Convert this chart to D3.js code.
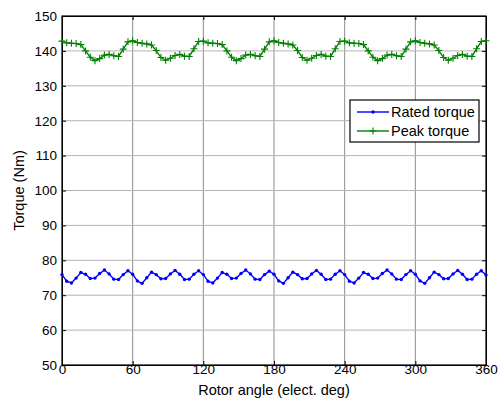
<!DOCTYPE html>
<html>
<head>
<meta charset="utf-8">
<script src="https://cdn.jsdelivr.net/npm/d3@7"></script>
<style>
  body { margin: 0; background: #fff; }
  text { font-family: "Liberation Sans", Arial, sans-serif; }
</style>
</head>
<body>
<div id="chart"></div>
<script>
// rotor angle samples (elect. deg)
let angles = [
    0, 4, 8, 12, 16, 20, 24, 28, 32, 36, 40, 44, 48, 52, 56,
    60, 64, 68, 72, 76, 80, 84, 88, 92, 96, 100, 104, 108, 112, 116,
    120, 124, 128, 132, 136, 140, 144, 148, 152, 156, 160, 164, 168, 172, 176,
    180, 184, 188, 192, 196, 200, 204, 208, 212, 216, 220, 224, 228, 232, 236,
    240, 244, 248, 252, 256, 260, 264, 268, 272, 276, 280, 284, 288, 292, 296,
    300, 304, 308, 312, 316, 320, 324, 328, 332, 336, 340, 344, 348, 352, 356,
    360
];

let ratedTorque = [
    75.9, 74.0, 73.5, 74.9, 76.5, 76.0, 74.8, 74.9, 76.2, 77.2, 76.1, 74.6, 74.5, 75.9, 77.0,
    76.0, 74.1, 73.4, 75.0, 76.6, 75.9, 74.7, 74.8, 76.1, 77.1, 76.0, 74.5, 74.6, 76.0, 77.0,
    75.9, 74.0, 73.5, 74.9, 76.5, 76.0, 74.8, 74.9, 76.2, 77.2, 76.1, 74.6, 74.5, 75.9, 76.9,
    76.0, 74.1, 73.4, 75.0, 76.6, 75.9, 74.7, 74.8, 76.1, 77.1, 76.0, 74.5, 74.6, 76.0, 77.0,
    75.9, 74.0, 73.5, 74.9, 76.5, 76.0, 74.8, 74.9, 76.2, 77.2, 76.1, 74.6, 74.5, 75.9, 77.0,
    76.0, 74.1, 73.4, 75.0, 76.6, 75.9, 74.7, 74.8, 76.1, 77.1, 76.0, 74.5, 74.6, 76.0, 77.0,
    75.8
];

let peakTorque = [
    142.8, 142.3, 142.2, 142.1, 141.8, 140.0, 138.2, 137.2, 137.8, 138.8, 139.0, 138.6, 138.4, 140.5, 142.6,
    142.9, 142.4, 142.2, 142.0, 141.7, 140.1, 138.1, 137.3, 137.9, 138.7, 139.0, 138.5, 138.4, 140.6, 142.7,
    142.8, 142.3, 142.2, 142.1, 141.8, 140.0, 138.2, 137.2, 137.8, 138.8, 139.0, 138.6, 138.4, 140.5, 142.6,
    142.9, 142.4, 142.2, 142.0, 141.7, 140.1, 138.1, 137.3, 137.9, 138.7, 139.0, 138.5, 138.4, 140.6, 142.7,
    142.8, 142.3, 142.2, 142.1, 141.8, 140.0, 138.2, 137.2, 137.8, 138.8, 139.0, 138.6, 138.4, 140.5, 142.6,
    142.9, 142.4, 142.2, 142.0, 141.7, 140.1, 138.1, 137.3, 137.9, 138.7, 139.0, 138.5, 138.4, 140.6, 142.7,
    142.9
];

let xTicks = [0, 60, 120, 180, 240, 300, 360];
let yTicks = [50, 60, 70, 80, 90, 100, 110, 120, 130, 140, 150];

let seriesNames = ['Rated torque', 'Peak torque'];
let seriesColors = ['#0000ff', '#008000'];

function drawChart() {

    let margin = {top: 16, right: 15, bottom: 36, left: 62};
    let totalW = 501, totalH = 401;
    let width = totalW - margin.left - margin.right;
    let height = totalH - margin.top - margin.bottom;

    let svg = d3.select('#chart').append('svg')
        .attr('width', totalW)
        .attr('height', totalH);

    let g = svg.append('g')
        .attr('transform', `translate(${margin.left},${margin.top})`);

    let x = d3.scaleLinear().domain([0, 360]).range([0, width]);
    let y = d3.scaleLinear().domain([50, 150]).range([height, 0]);

    // grid
    g.selectAll('.vgrid').data(xTicks.slice(1, -1)).enter().append('line')
        .attr('x1', d => x(d)).attr('x2', d => x(d))
        .attr('y1', 0).attr('y2', height)
        .attr('stroke', '#8c8c8c').attr('stroke-width', 1);

    g.selectAll('.hgrid').data(yTicks.slice(1, -1)).enter().append('line')
        .attr('x1', 0).attr('x2', width)
        .attr('y1', d => y(d)).attr('y2', d => y(d))
        .attr('stroke', '#b4b4b4').attr('stroke-width', 1);

    // axes with inner ticks
    g.append('g')
        .attr('transform', `translate(0,${height})`)
        .call(d3.axisBottom(x).tickValues(xTicks).tickSizeInner(-4).tickSizeOuter(0).tickPadding(-1));
    g.append('g')
        .call(d3.axisLeft(y).tickValues(yTicks).tickSizeInner(-4).tickSizeOuter(0).tickPadding(5));
    g.append('g')
        .call(d3.axisTop(x).tickValues(xTicks).tickSizeInner(-4).tickSizeOuter(0).tickFormat(''));
    g.append('g')
        .attr('transform', `translate(${width},0)`)
        .call(d3.axisRight(y).tickValues(yTicks).tickSizeInner(-4).tickSizeOuter(0).tickFormat(''));

    g.selectAll('.domain').attr('stroke', '#000');
    g.selectAll('.tick line').attr('stroke', '#000');
    g.selectAll('.tick text').attr('font-size', '13.5px').attr('fill', '#000');

    // box
    g.append('rect')
        .attr('width', width).attr('height', height)
        .attr('fill', 'none').attr('stroke', '#000').attr('stroke-width', 1.2);

    // lines
    let allSeries = [ratedTorque, peakTorque];
    let line = d3.line()
        .x((d, i) => x(angles[i]))
        .y(d => y(d));

    allSeries.forEach(function (values, s) {
        g.append('path')
            .datum(values)
            .attr('d', line)
            .attr('fill', 'none')
            .attr('stroke', seriesColors[s])
            .attr('stroke-width', 1.4);

        if (s === 0) {
            g.selectAll('.dot' + s).data(values).enter().append('circle')
                .attr('cx', (d, i) => x(angles[i]))
                .attr('cy', d => y(d))
                .attr('r', 1.7)
                .attr('fill', seriesColors[s]);
        } else {
            g.selectAll('.plus' + s).data(values).enter().append('path')
                .attr('d', (d, i) => {
                    let cx = x(angles[i]), cy = y(d);
                    return `M${cx - 3.5},${cy}H${cx + 3.5}M${cx},${cy - 3.5}V${cy + 3.5}`;
                })
                .attr('stroke', seriesColors[s])
                .attr('stroke-width', 1.1);
        }
    });

    // legend
    let legend = svg.append('g').attr('transform', 'translate(350,100)');
    legend.append('rect')
        .attr('width', 129).attr('height', 42)
        .attr('fill', '#fff').attr('stroke', '#000').attr('stroke-width', 1.2);

    seriesNames.forEach(function (name, s) {
        let ly = 12 + s * 19;
        legend.append('line')
            .attr('x1', 7).attr('x2', 39).attr('y1', ly).attr('y2', ly)
            .attr('stroke', seriesColors[s]).attr('stroke-width', 1.4);
        if (s === 0) {
            legend.append('circle').attr('cx', 23).attr('cy', ly).attr('r', 1.7)
                .attr('fill', seriesColors[s]);
        } else {
            legend.append('path').attr('d', `M19.5,${ly}H26.5M23,${ly - 3.5}V${ly + 3.5}`)
                .attr('stroke', seriesColors[s]).attr('stroke-width', 1.1);
        }
        legend.append('text')
            .attr('x', 41).attr('y', ly + 5)
            .attr('font-size', '14.5px')
            .text(name);
    });

    // axis labels
    svg.append('text')
        .attr('x', margin.left + width / 2).attr('y', 395)
        .attr('text-anchor', 'middle')
        .attr('font-size', '14.5px')
        .text('Rotor angle (elect. deg)');

    svg.append('text')
        .attr('transform', `translate(24,${margin.top + height / 2}) rotate(-90)`)
        .attr('text-anchor', 'middle')
        .attr('font-size', '14.5px')
        .text('Torque (Nm)');
}

drawChart();
</script>
</body>
</html>
